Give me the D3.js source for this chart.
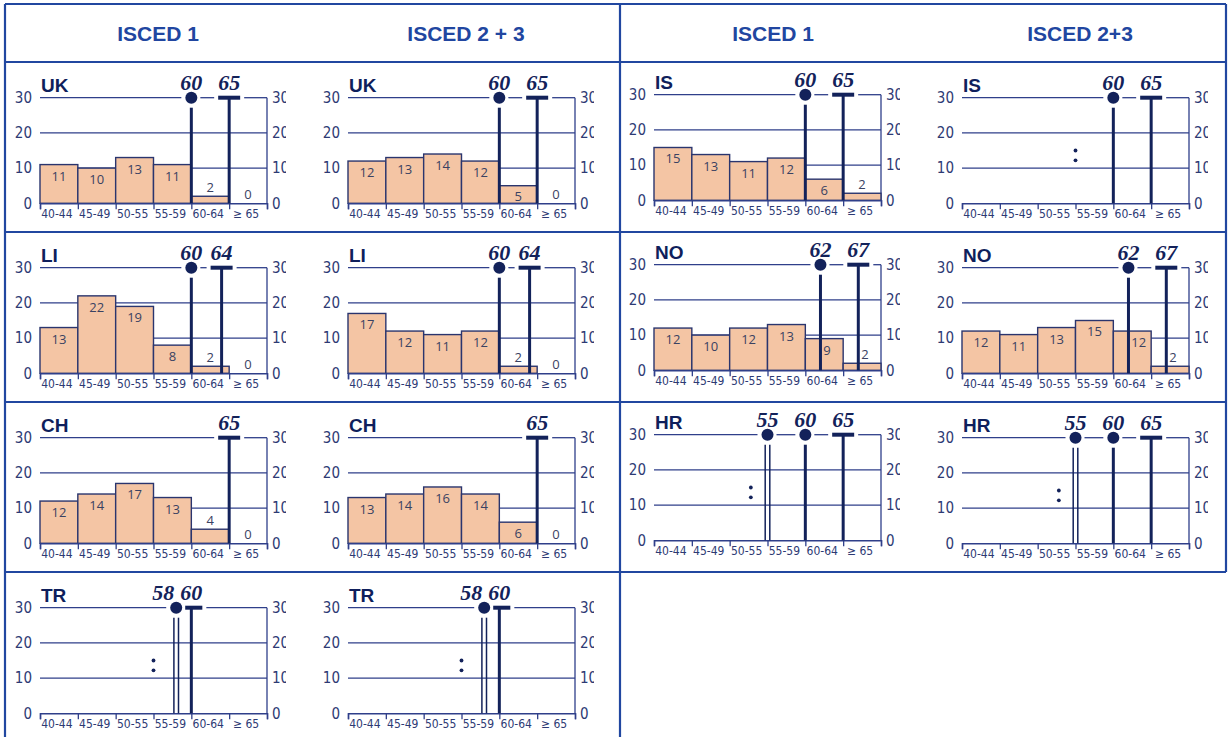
<!DOCTYPE html>
<html>
<head>
<meta charset="utf-8">
<script src="https://cdn.jsdelivr.net/npm/d3@7"></script>
<style>
  html, body { margin: 0; padding: 0; background: #ffffff; }
  svg { display: block; }
</style>
</head>
<body>
<script>
// ---------------- DATA ----------------
const ageGroups = ["40-44", "45-49", "50-55", "55-59", "60-64", "\u2265 65"];
const ageBounds = [40, 45, 50, 55, 60, 65, 70];
const yTicks = [0, 10, 20, 30];
const headerLabels = ["ISCED 1", "ISCED 2 + 3", "ISCED 1", "ISCED 2+3"];

// left half rows: UK, LI, CH, TR ; right half rows: IS, NO, HR
const ukIsced1 = [11, 10, 13, 11, 2, 0];
const ukIsced23 = [12, 13, 14, 12, 5, 0];
const liIsced1 = [13, 22, 19, 8, 2, 0];
const liIsced23 = [17, 12, 11, 12, 2, 0];
const chIsced1 = [12, 14, 17, 13, 4, 0];
const chIsced23 = [13, 14, 16, 14, 6, 0];
const trIsced1 = null;   // ":" not available
const trIsced23 = null;
const isIsced1 = [15, 13, 11, 12, 6, 2];
const isIsced23 = null;
const noIsced1 = [12, 10, 12, 13, 9, 2];
const noIsced23 = [12, 11, 13, 15, 12, 2];
const hrIsced1 = null;
const hrIsced23 = null;

// retirement ages: minimum (circle), conditional minimum (circle + double line), standard (T)
const minAgeUK = [60], condAgeUK = [], stdAgeUK = [65];
const minAgeLI = [60], condAgeLI = [], stdAgeLI = [64];
const minAgeCH = [],   condAgeCH = [], stdAgeCH = [65];
const minAgeTR = [],   condAgeTR = [58], stdAgeTR = [60];
const minAgeIS = [60], condAgeIS = [], stdAgeIS = [65];
const minAgeNO = [62], condAgeNO = [], stdAgeNO = [67];
const minAgeHR = [60], condAgeHR = [55], stdAgeHR = [65];

// ---------------- LAYOUT ----------------
const W = 1229, H = 737;
const borderColor = "#2147a0";
const lineColor = "#2f3f8a";
const navy = "#13225a";
const textColor = "#2d3a74";
const barFill = "#f4c5a4";
const barStroke = "#2a356e";

const colLeft = [40, 348, 654, 962];
const colDy = [0, 0, -3, 0];
const rowTop = [62, 232, 402, 572];
const plotW = 227, plotH = 105.6, y30Off = 35.7;

const panels = [
  { col: 0, row: 0, title: "UK", values: ukIsced1, minA: minAgeUK, condA: condAgeUK, stdA: stdAgeUK },
  { col: 1, row: 0, title: "UK", values: ukIsced23, minA: minAgeUK, condA: condAgeUK, stdA: stdAgeUK },
  { col: 0, row: 1, title: "LI", values: liIsced1, minA: minAgeLI, condA: condAgeLI, stdA: stdAgeLI },
  { col: 1, row: 1, title: "LI", values: liIsced23, minA: minAgeLI, condA: condAgeLI, stdA: stdAgeLI },
  { col: 0, row: 2, title: "CH", values: chIsced1, minA: minAgeCH, condA: condAgeCH, stdA: stdAgeCH },
  { col: 1, row: 2, title: "CH", values: chIsced23, minA: minAgeCH, condA: condAgeCH, stdA: stdAgeCH },
  { col: 0, row: 3, title: "TR", values: trIsced1, minA: minAgeTR, condA: condAgeTR, stdA: stdAgeTR },
  { col: 1, row: 3, title: "TR", values: trIsced23, minA: minAgeTR, condA: condAgeTR, stdA: stdAgeTR },
  { col: 2, row: 0, title: "IS", values: isIsced1, minA: minAgeIS, condA: condAgeIS, stdA: stdAgeIS },
  { col: 3, row: 0, title: "IS", values: isIsced23, minA: minAgeIS, condA: condAgeIS, stdA: stdAgeIS },
  { col: 2, row: 1, title: "NO", values: noIsced1, minA: minAgeNO, condA: condAgeNO, stdA: stdAgeNO },
  { col: 3, row: 1, title: "NO", values: noIsced23, minA: minAgeNO, condA: condAgeNO, stdA: stdAgeNO },
  { col: 2, row: 2, title: "HR", values: hrIsced1, minA: minAgeHR, condA: condAgeHR, stdA: stdAgeHR },
  { col: 3, row: 2, title: "HR", values: hrIsced23, minA: minAgeHR, condA: condAgeHR, stdA: stdAgeHR }
];

const svg = d3.select("body").append("svg").attr("width", W).attr("height", H);
const defs = svg.append("defs");

// ---------------- TABLE ----------------
const tb = svg.append("g").attr("stroke", borderColor).attr("stroke-width", 2.2);
[4, 62, 232, 402, 572].forEach(y => tb.append("line").attr("x1", 5).attr("x2", 1226).attr("y1", y).attr("y2", y));
tb.append("line").attr("x1", 5).attr("x2", 5).attr("y1", 4).attr("y2", H);
tb.append("line").attr("x1", 620).attr("x2", 620).attr("y1", 4).attr("y2", H);
tb.append("line").attr("x1", 1226).attr("x2", 1226).attr("y1", 4).attr("y2", 572);

const headerCenters = [158, 466, 773, 1080];
svg.append("g").selectAll("text").data(headerLabels).join("text")
  .attr("x", (d, i) => headerCenters[i]).attr("y", 41)
  .attr("text-anchor", "middle")
  .attr("font-family", "Liberation Sans, Arial, sans-serif")
  .attr("font-weight", "bold").attr("font-size", 21)
  .attr("fill", "#2146a0")
  .text(d => d);

// ---------------- PANELS ----------------
const narrow = "'Liberation Sans Narrow', 'Arial Narrow', 'DejaVu Sans Condensed', 'Roboto Condensed', sans-serif";

panels.forEach((p, pi) => {
  const x0 = colLeft[p.col];
  const yTop = rowTop[p.row] + y30Off + colDy[p.col];
  const g = svg.append("g").attr("transform", `translate(${x0},${yTop})`);

  const x = d3.scaleLinear().domain([40, 70]).range([0, plotW]);
  const band = d3.scaleBand().domain(ageGroups).range([0, plotW]).paddingInner(0).paddingOuter(0);
  const y = d3.scaleLinear().domain([0, 30]).range([plotH, 0]);

  // gridlines 10, 20
  g.append("g").selectAll("line").data([10, 20]).join("line")
    .attr("x1", 0).attr("x2", plotW).attr("y1", d => y(d)).attr("y2", d => y(d))
    .attr("stroke", lineColor).attr("stroke-width", 1.3);

  // markers list
  const markers = [];
  p.condA.forEach(a => markers.push({ age: a, type: "cond" }));
  p.minA.forEach(a => markers.push({ age: a, type: "min" }));
  p.stdA.forEach(a => markers.push({ age: a, type: "std" }));
  markers.sort((a, b) => a.age - b.age);

  // top line (30) with gaps around markers
  const gaps = markers.map(m => {
    const mx = x(m.age);
    return m.type === "std" ? [mx - 15, mx + 15] : [mx - 10, mx + 9];
  }).sort((a, b) => a[0] - b[0]);
  const segs = [];
  let cur = 0;
  gaps.forEach(gp => {
    if (gp[0] > cur) segs.push([cur, gp[0]]);
    cur = Math.max(cur, gp[1]);
  });
  if (cur < plotW) segs.push([cur, plotW]);
  g.append("g").selectAll("line").data(segs).join("line")
    .attr("x1", d => d[0]).attr("x2", d => d[1]).attr("y1", y(30)).attr("y2", y(30))
    .attr("stroke", lineColor).attr("stroke-width", 1.3);

  // right vertical axis line
  g.append("line").attr("x1", plotW).attr("x2", plotW).attr("y1", y(30)).attr("y2", y(0))
    .attr("stroke", lineColor).attr("stroke-width", 1.3);

  // bars
  if (p.values) {
    g.append("g").selectAll("rect").data(p.values).join("rect")
      .attr("x", (d, i) => band(ageGroups[i]))
      .attr("width", band.bandwidth())
      .attr("y", d => y(d))
      .attr("height", d => y(0) - y(d))
      .attr("fill", barFill)
      .attr("stroke", barStroke).attr("stroke-width", 1.4);
  }

  // bottom axis
  const xAxis = d3.axisBottom(x).tickValues(ageBounds).tickSize(6).tickFormat("");
  const ax = g.append("g").attr("transform", `translate(0,${y(0)})`).call(xAxis);
  ax.select(".domain").attr("stroke", lineColor).attr("stroke-width", 1.5);
  ax.selectAll(".tick line").attr("stroke", lineColor).attr("stroke-width", 1.3);
  g.append("g").selectAll("text").data(ageGroups).join("text")
    .attr("x", d => band(d) + band.bandwidth() / 2 - 2)
    .attr("y", y(0) + 15)
    .attr("text-anchor", "middle")
    .attr("font-family", narrow).attr("font-size", 12)
    .attr("fill", textColor)
    .text(d => d);

  // left y labels
  const yl = g.append("g").call(d3.axisLeft(y).tickValues(yTicks).tickSize(0).tickPadding(8));
  yl.select(".domain").remove();
  yl.selectAll("text").attr("font-family", narrow).attr("font-size", 15).attr("fill", textColor);

  // right y labels (clipped like reference)
  const cid = "clip" + pi;
  defs.append("clipPath").attr("id", cid).append("rect")
    .attr("x", 0).attr("y", -10).attr("width", 19).attr("height", plotH + 20);
  const yr = g.append("g").attr("clip-path", `url(#${cid})`)
    .attr("transform", `translate(${plotW},0)`)
    .call(d3.axisRight(y).tickValues(yTicks).tickSize(0).tickPadding(5));
  yr.select(".domain").remove();
  yr.selectAll("text").attr("font-family", narrow).attr("font-size", 15).attr("fill", textColor);

  // bar labels
  if (p.values) {
    const lineXs = markers.map(m => x(m.age));
    g.append("g").selectAll("text").data(p.values).join("text")
      .attr("x", (d, i) => {
        let cx = band(ageGroups[i]) + band.bandwidth() / 2;
        const half = String(d).length * 3.6;
        lineXs.forEach(lx => {
          if (Math.abs(cx - lx) < half + 3) cx = lx + 3 + half;
        });
        return cx;
      })
      .attr("y", d => (y(0) - y(d) > 15) ? Math.min(y(d) + 16, y(0) - 2) : y(d) - 4)
      .attr("text-anchor", "middle")
      .attr("font-family", "'Open Sans', sans-serif").attr("font-size", 13)
      .attr("fill", "#3a4262")
      .text(d => d);
  } else {
    const firstAge = markers.length ? markers[0].age : 70;
    const nx = x(Math.min(55, firstAge - 2.2));
    g.append("g").selectAll("circle").data([12.2, 15.0]).join("circle")
      .attr("cx", nx).attr("cy", d => y(d)).attr("r", 1.9).attr("fill", navy);
  }

  // marker lines
  markers.forEach((m, mi) => {
    const mx = x(m.age);
    const prev = markers[mi - 1];
    if (m.type === "std") {
      const leftHalf = prev ? Math.min(11, mx - x(prev.age) - 9) : 11;
      g.append("line").attr("x1", mx).attr("x2", mx).attr("y1", y(30)).attr("y2", y(0))
        .attr("stroke", navy).attr("stroke-width", 3);
      g.append("line").attr("x1", mx - leftHalf).attr("x2", mx + 11).attr("y1", y(30)).attr("y2", y(30))
        .attr("stroke", navy).attr("stroke-width", 4);
    } else if (m.type === "min") {
      g.append("line").attr("x1", mx).attr("x2", mx).attr("y1", y(30) + 10).attr("y2", y(0))
        .attr("stroke", navy).attr("stroke-width", 3);
      g.append("circle").attr("cx", mx).attr("cy", y(30)).attr("r", 6).attr("fill", navy);
    } else {
      [-2.3, 2.3].forEach(dx => g.append("line")
        .attr("x1", mx + dx).attr("x2", mx + dx).attr("y1", y(30) + 10).attr("y2", y(0))
        .attr("stroke", navy).attr("stroke-width", 1.5));
      g.append("circle").attr("cx", mx).attr("cy", y(30)).attr("r", 6).attr("fill", navy);
    }
    // label
    let lx = mx;
    const next = markers[mi + 1];
    if (next) {
      const diff = x(next.age) - mx;
      if (diff < 28) lx = mx - (28 - diff);
    }
    g.append("text").attr("x", lx).attr("y", y(30) - 8)
      .attr("text-anchor", "middle")
      .attr("font-family", "'Liberation Serif', 'Times New Roman', serif")
      .attr("font-style", "italic").attr("font-weight", "bold").attr("font-size", 22)
      .attr("fill", navy)
      .text(m.age);
  });

  // title
  g.append("text").attr("x", 1).attr("y", y(30) - 6)
    .attr("font-family", "Liberation Sans, Arial, sans-serif")
    .attr("font-weight", "bold").attr("font-size", 19)
    .attr("fill", "#0f1f5c")
    .text(p.title);
});
</script>
</body>
</html>
